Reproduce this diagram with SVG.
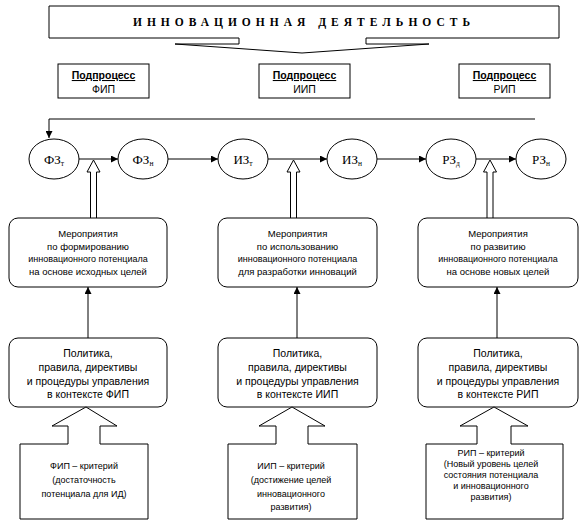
<svg xmlns="http://www.w3.org/2000/svg" width="585" height="530" viewBox="0 0 585 530">
<defs>
<style>
.ln{fill:none;stroke:#000;stroke-width:1}
.bx{fill:#fff;stroke:#000;stroke-width:1}
.t{font-family:"Liberation Sans",Arial,sans-serif;fill:#000;text-anchor:middle}
.s{font-family:"Liberation Serif","Times New Roman",serif;fill:#000;text-anchor:middle}
.m{font-size:9.5px}
.p{font-size:10.5px}
.c{font-size:9px}
.e{font-size:13px}
.sub{font-size:7.5px}
.hd{font-size:10.5px;font-weight:bold;text-decoration:underline}
.nm{font-size:10.5px}
</style>
<marker id="ah" viewBox="0 0 10 10" refX="10" refY="5" markerWidth="9" markerHeight="7" markerUnits="userSpaceOnUse" orient="auto">
<path d="M0,0 L10,5 L0,10 Z" fill="#000"/>
</marker>
</defs>
<rect width="585" height="530" fill="#fff"/>

<g id="title">
<path class="bx" d="M49,6 H559 V38 H366 V44 H429 L302,53 L175,44 H239 V38 H49 Z"/>
<text class="s" x="304" y="26" style="font-size:11.5px;font-weight:bold;letter-spacing:5px">ИННОВАЦИОННАЯ ДЕЯТЕЛЬНОСТЬ</text>
</g>

<g id="sub-fip">
<rect class="bx" x="58" y="64" width="91" height="34"/>
<text class="t hd" x="103.5" y="79">Подпроцесс</text>
<text class="t nm" x="103.5" y="93">ФИП</text>
</g>
<g id="sub-iip">
<rect class="bx" x="259" y="64" width="91" height="34"/>
<text class="t hd" x="304.5" y="79">Подпроцесс</text>
<text class="t nm" x="304.5" y="93">ИИП</text>
</g>
<g id="sub-rip">
<rect class="bx" x="459" y="64" width="91" height="34"/>
<text class="t hd" x="504.5" y="79">Подпроцесс</text>
<text class="t nm" x="504.5" y="93">РИП</text>
</g>

<g id="connectors">
<path class="ln" d="M535,119 H49 V138" marker-end="url(#ah)"/>
<line class="ln" x1="79" y1="159" x2="118" y2="159" marker-end="url(#ah)"/>
<line class="ln" x1="168" y1="159" x2="218" y2="159" marker-end="url(#ah)"/>
<line class="ln" x1="268" y1="159" x2="327" y2="159" marker-end="url(#ah)"/>
<line class="ln" x1="377" y1="159" x2="426" y2="159" marker-end="url(#ah)"/>
<line class="ln" x1="476" y1="159" x2="516" y2="159" marker-end="url(#ah)"/>
<path class="bx" d="M90.5,218 V172 H87 L93.5,160 L100,172 H96.5 V218"/>
<path class="bx" d="M290.5,218 V172 H287 L293.5,160 L300,172 H296.5 V218"/>
<path class="bx" d="M487,218 V172 H483.5 L490,160 L496.5,172 H493 V218"/>
<line class="ln" x1="88" y1="338" x2="88" y2="287" marker-end="url(#ah)"/>
<line class="ln" x1="297" y1="338" x2="297" y2="287" marker-end="url(#ah)"/>
<line class="ln" x1="497" y1="338" x2="497" y2="287" marker-end="url(#ah)"/>
</g>

<g id="fz-t">
<ellipse class="bx" cx="54" cy="159" rx="25" ry="20"/>
<text class="s e" x="54" y="164">ФЗ<tspan class="sub" dy="2">т</tspan></text>
</g>
<g id="fz-n">
<ellipse class="bx" cx="143" cy="159" rx="25" ry="20"/>
<text class="s e" x="143" y="164">ФЗ<tspan class="sub" dy="2">н</tspan></text>
</g>
<g id="iz-t">
<ellipse class="bx" cx="243" cy="159" rx="25" ry="20"/>
<text class="s e" x="243" y="164">ИЗ<tspan class="sub" dy="2">т</tspan></text>
</g>
<g id="iz-n">
<ellipse class="bx" cx="352" cy="159" rx="25" ry="20"/>
<text class="s e" x="352" y="164">ИЗ<tspan class="sub" dy="2">н</tspan></text>
</g>
<g id="rz-d">
<ellipse class="bx" cx="451" cy="159" rx="25" ry="20"/>
<text class="s e" x="451" y="164">РЗ<tspan class="sub" dy="2">д</tspan></text>
</g>
<g id="rz-n">
<ellipse class="bx" cx="541" cy="159" rx="25" ry="20"/>
<text class="s e" x="541" y="164">РЗ<tspan class="sub" dy="2">н</tspan></text>
</g>

<g id="mer-fip">
<rect class="bx" x="9" y="218" width="158" height="69" rx="9"/>
<text class="t m" x="88" y="237">Мероприятия</text>
<text class="t m" x="88" y="250">по формированию</text>
<text class="t c" x="88" y="262">инновационного потенциала</text>
<text class="t m" x="88" y="275">на основе исходных целей</text>
</g>
<g id="mer-iip">
<rect class="bx" x="218" y="218" width="159" height="69" rx="9"/>
<text class="t m" x="297.5" y="237">Мероприятия</text>
<text class="t m" x="297.5" y="250">по использованию</text>
<text class="t c" x="297.5" y="262">инновационного потенциала</text>
<text class="t m" x="297.5" y="275">для разработки инноваций</text>
</g>
<g id="mer-rip">
<rect class="bx" x="418" y="218" width="160" height="69" rx="9"/>
<text class="t m" x="498" y="237">Мероприятия</text>
<text class="t m" x="498" y="250">по развитию</text>
<text class="t c" x="498" y="262">инновационного потенциала</text>
<text class="t m" x="498" y="275">на основе новых целей</text>
</g>

<g id="pol-fip">
<rect class="bx" x="9" y="338" width="158" height="69" rx="9"/>
<text class="t p" x="88" y="356.5">Политика,</text>
<text class="t p" x="88" y="370.5">правила, директивы</text>
<text class="t p" x="88" y="384.5">и процедуры управления</text>
<text class="t p" x="88" y="398">в контексте ФИП</text>
</g>
<g id="pol-iip">
<rect class="bx" x="218" y="338" width="159" height="69" rx="9"/>
<text class="t p" x="297.5" y="356.5">Политика,</text>
<text class="t p" x="297.5" y="370.5">правила, директивы</text>
<text class="t p" x="297.5" y="384.5">и процедуры управления</text>
<text class="t p" x="297.5" y="398">в контексте ИИП</text>
</g>
<g id="pol-rip">
<rect class="bx" x="418" y="338" width="160" height="69" rx="9"/>
<text class="t p" x="498" y="356.5">Политика,</text>
<text class="t p" x="498" y="370.5">правила, директивы</text>
<text class="t p" x="498" y="384.5">и процедуры управления</text>
<text class="t p" x="498" y="398">в контексте РИП</text>
</g>

<g id="crit-fip">
<path class="bx" d="M20,519 V444 H68 V426 H52 L86,407 L117,426 H100 V444 H148 V519 Z"/>
<text class="t c" x="84" y="469">ФИП – критерий</text>
<text class="t c" x="84" y="483">(достаточность</text>
<text class="t c" x="84" y="496.5">потенциала для ИД)</text>
</g>
<g id="crit-iip">
<path class="bx" d="M228,519 V444 H276 V426 H259 L292,407 L325,426 H308 V444 H357 V519 Z"/>
<text class="t c" x="291" y="469">ИИП – критерий</text>
<text class="t c" x="291" y="483">(достижение целей</text>
<text class="t c" x="291" y="496.5">инновационного</text>
<text class="t c" x="291" y="509.5">развития)</text>
</g>
<g id="crit-rip">
<path class="bx" d="M426,519 V444 H477 V426 H460 L494,407 L528,426 H511 V444 H563 V519 Z"/>
<text class="t c" x="491" y="456">РИП – критерий</text>
<text class="t c" x="491" y="466.5">(Новый уровень целей</text>
<text class="t c" x="491" y="478">состояния потенциала</text>
<text class="t c" x="491" y="489">и инновационного</text>
<text class="t c" x="491" y="500">развития)</text>
</g>
</svg>
